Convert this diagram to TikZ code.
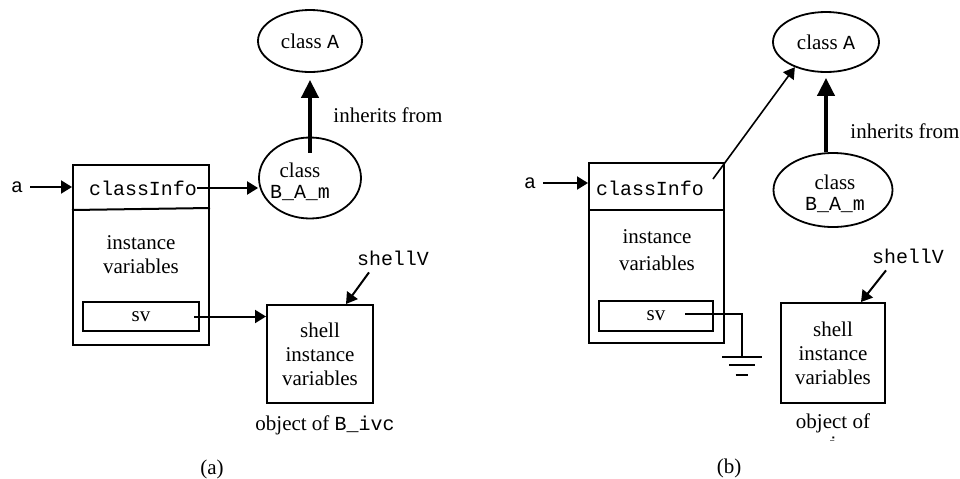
\documentclass[tikz,border=0pt]{standalone}
\usepackage{fontspec}
\setmainfont{Liberation Serif}
\setmonofont[Scale=0.95]{Liberation Mono}
\usetikzlibrary{arrows.meta,shapes.geometric}

\begin{document}
\begin{tikzpicture}[x=0.5pt, y=-0.5pt,
    font=\fontsize{10.5}{12}\selectfont,
    box/.style={draw, line width=1pt, inner sep=0pt},
    oval/.style={draw, ellipse, line width=0.9pt, inner sep=0pt},
    txt/.style={align=center},
    arrow/.style={-{Triangle[length=5.5pt,width=6.5pt]}, line width=1pt},
    fatarrow/.style={-{Triangle[length=9pt,width=8.5pt]}, line width=2pt},
    wire/.style={line width=0.8pt}
]
\useasboundingbox (0,0) rectangle (960,478);

% ---- (a) ----
\node[oval, minimum width=52pt, minimum height=31pt] (caa) at (310,41) {class \texttt{A}};
\node[oval, minimum width=51pt, minimum height=40.5pt] (bama) at (310,178) {};
\node[txt] (bamtxta) at (300,182) {class\\[-1.5pt]\texttt{B\_A\_m}};
\draw[fatarrow] ([yshift=-8pt]bama.north) -- ([yshift=-3.5pt]caa.south);
\node[txt] (inha) at (388,115) {inherits from};

\node[box, minimum width=68pt, minimum height=90pt] (obja) at (141,255) {};
\draw[line width=1pt] ([yshift=-23pt]obja.north west) -- ([yshift=-22pt]obja.north east);
\node[txt, inner sep=0pt] (cia) at (143,188) {\texttt{classInfo}};
\node[txt] (iva) at (141,255) {instance\\variables};
\node[box, minimum width=58pt, minimum height=14.5pt] (sva) at (141,316.5) {sv};
\node[txt] (vara) at (17,187) {\texttt{a}};
\draw[arrow] (vara) -- (vara -| obja.west);
\draw[arrow] (cia.east) -- (cia.east -| bama.west);

\node[box, minimum width=53pt, minimum height=49pt, align=center] (shella) at (320,354) {shell\\instance\\variables};
\node[txt] (shva) at (393,258) {\texttt{shellV}};
\draw[arrow] ([xshift=-12pt]shva.south) -- ([xshift=13pt]shella.north);
\draw[arrow] ([xshift=-3pt]sva.east) -- (sva.east -| shella.west);
\node[txt] (ofa) at (325,425) {object of \texttt{B\_ivc}};
\node[txt] (capa) at (212,469) {(a)};

% ---- (b) ----
\node[oval, minimum width=53pt, minimum height=30pt] (cab) at (826,42) {class \texttt{A}};
\node[oval, minimum width=59.5pt, minimum height=37pt] (bamb) at (833,190) {};
\node[txt] (bamtxtb) at (835,193.5) {class\\[-1.5pt]\texttt{B\_A\_m}};
\draw[fatarrow] (cab.south |- bamb.north) -- ([yshift=-2.5pt]cab.south);
\node[txt] (inhb) at (905,131) {inherits from};

\node[box, minimum width=67.5pt, minimum height=90pt] (objb) at (656.5,253) {};
\draw[line width=1pt] ([yshift=-24pt]objb.north west) -- ([yshift=-24pt]objb.north east);
\node[txt, inner sep=0pt] (cib) at (650,188) {\texttt{classInfo}};
\node[txt] (ivb) at (657,250.5) {instance\\[1.5pt]variables};
\node[box, minimum width=57pt, minimum height=15pt] (svb) at (656,316) {sv};
\node[txt] (varb) at (530,183) {\texttt{a}};
\draw[arrow] (varb) -- (varb -| objb.west);
\coordinate (cib-out) at (713,179);
\draw[arrow, line width=0.8pt] (cib-out) -- (cab.219);

% null pointer to ground
\coordinate (gnd) at (742,357);
\draw[wire] ([xshift=-14.5pt,yshift=1pt]svb.east) -| (gnd);
\draw[wire] ([xshift=-10pt]gnd) -- ([xshift=10pt]gnd);
\draw[wire] ([xshift=-6.5pt,yshift=-4pt]gnd) -- ([xshift=6.5pt,yshift=-4pt]gnd);
\draw[wire] ([xshift=-3.2pt,yshift=-9pt]gnd) -- ([xshift=3.2pt,yshift=-9pt]gnd);

\node[box, minimum width=52pt, minimum height=50pt, align=center] (shellb) at (833,353) {shell\\instance\\variables};
\node[txt] (shvb) at (908,256) {\texttt{shellV}};
\draw[arrow] ([xshift=-11pt]shvb.south) -- ([xshift=14pt]shellb.north);
\node[txt] (ofb) at (833,423) {object of};
% second line of the caption is cut off below the first
\begin{scope}
  \clip (830,434) rectangle (836,440);
  \node[anchor=base] (ivcb) at (833,451) {\texttt{B\_ivc}};
\end{scope}
\node[txt] (capb) at (729,468) {(b)};
\end{tikzpicture}
\end{document}
